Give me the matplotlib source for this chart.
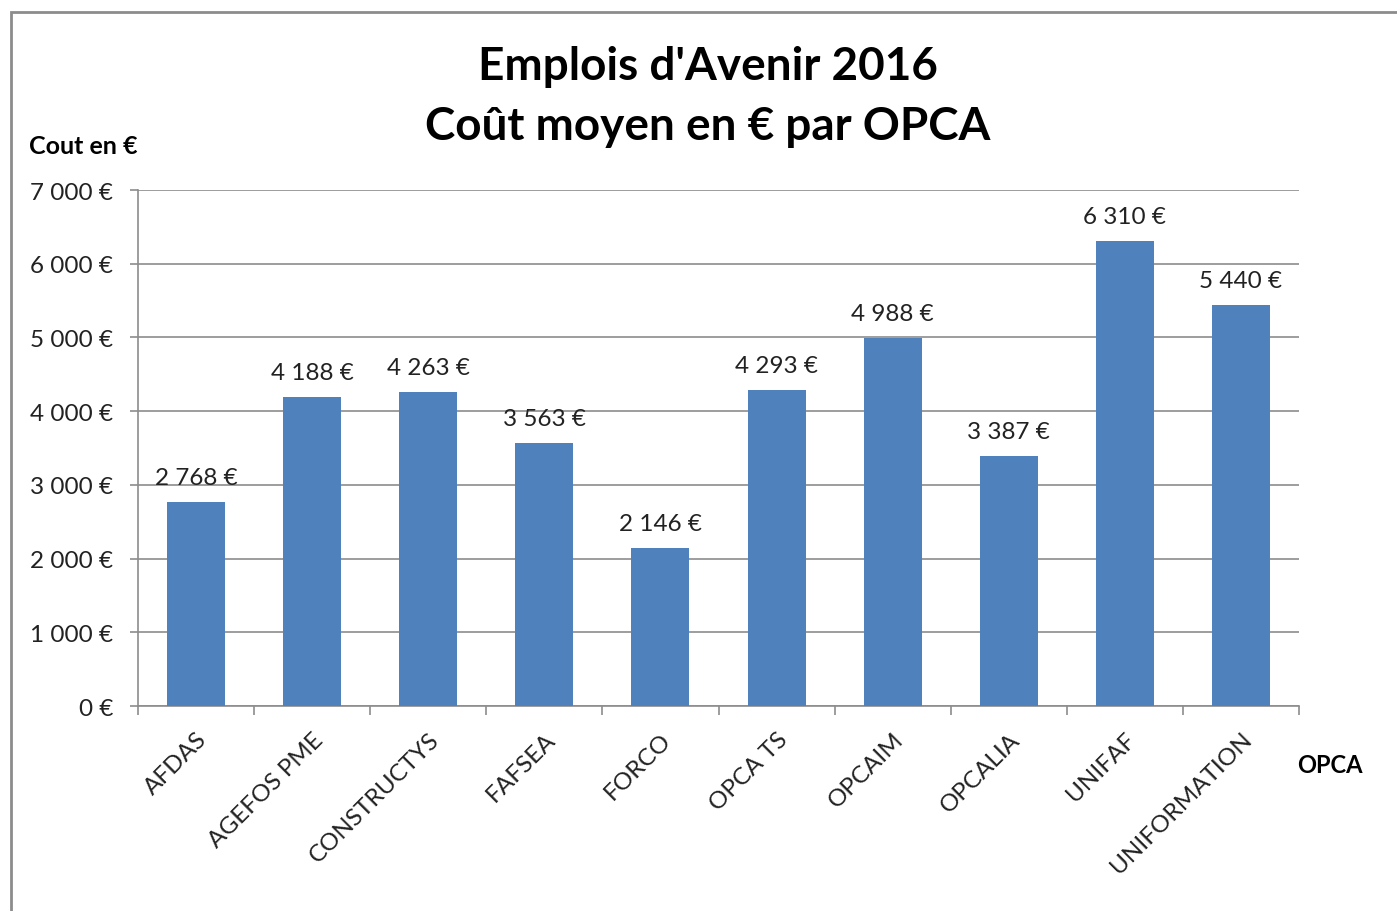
import matplotlib
matplotlib.use("Agg")
import matplotlib.pyplot as plt
from matplotlib.patches import Rectangle
import numpy as np

categories = ["AFDAS", "AGEFOS PME", "CONSTRUCTYS", "FAFSEA", "FORCO",
              "OPCA TS", "OPCAIM", "OPCALIA", "UNIFAF", "UNIFORMATION"]
values = [2768, 4188, 4263, 3563, 2146, 4293, 4988, 3387, 6310, 5440]
yticks = [0, 1000, 2000, 3000, 4000, 5000, 6000, 7000]

def eur(v):
    s = f"{v:,}".replace(",", " ")
    return f"{s} €"

plt.rcParams['font.family'] = ['Lato', 'DejaVu Sans']
W, H = 1397, 912
fig = plt.figure(figsize=(W / 100, H / 100), dpi=100)
ax = fig.add_axes([138 / W, 1 - 707 / H, (1299 - 138) / W, (707 - 191) / H])

# Outer chart frame
fig.patches.append(Rectangle((11 / W, -0.5), 1.5, 1 - 13 / H + 0.5,
                             transform=fig.transFigure, fill=False,
                             edgecolor="#8c8c8c", linewidth=2))

FS = 17.5
x = np.arange(len(categories))
ax.bar(x, values, width=0.5, color="#4f81bd", zorder=3)
ax.set_xlim(-0.5, len(categories) - 0.5)
ax.set_ylim(0, 7000)
ax.set_yticks(yticks)
ax.set_yticklabels([eur(v) for v in yticks], fontsize=FS, color="#222222")
ax.yaxis.grid(True, color="#8c8c8c", linewidth=1.2, zorder=0)
ax.set_axisbelow(True)

ax.set_xticks(np.arange(len(categories) + 1) - 0.5)
ax.set_xticklabels([])
ax.set_xticks(x, minor=True)
ax.set_xticklabels(categories, minor=True, rotation=45, ha="right",
                   rotation_mode="anchor", fontsize=FS, color="#222222")
ax.tick_params(axis="x", which="minor", length=0, pad=16)
ax.tick_params(axis="x", which="major", length=6.5, color="#8c8c8c", width=1.2)
ax.tick_params(axis="y", length=6, color="#8c8c8c", width=1.2, pad=12)

for s in ["top", "right"]:
    ax.spines[s].set_visible(False)
for s in ["left", "bottom"]:
    ax.spines[s].set_color("#8c8c8c")
    ax.spines[s].set_linewidth(1.2)

for xi, v in zip(x, values):
    ax.annotate(eur(v), (xi, v), xytext=(0, 10), textcoords="offset points",
                ha="center", va="bottom", fontsize=FS, color="#222222")

fig.text(708 / W, 1 - 67 / H, "Emplois d'Avenir 2016", ha="center", va="center",
         fontsize=33, fontweight="bold")
fig.text(708 / W, 1 - 127 / H, "Coût moyen en € par OPCA", ha="center", va="center",
         fontsize=33, fontweight="bold")
fig.text(29 / W, 1 - 147 / H, "Cout en €", ha="left", va="center",
         fontsize=18, fontweight="bold")
fig.text(1297 / W, 1 - 766 / H, "OPCA", ha="left", va="center",
         fontsize=17, fontweight="bold")

fig.savefig("out.png", dpi=100)
